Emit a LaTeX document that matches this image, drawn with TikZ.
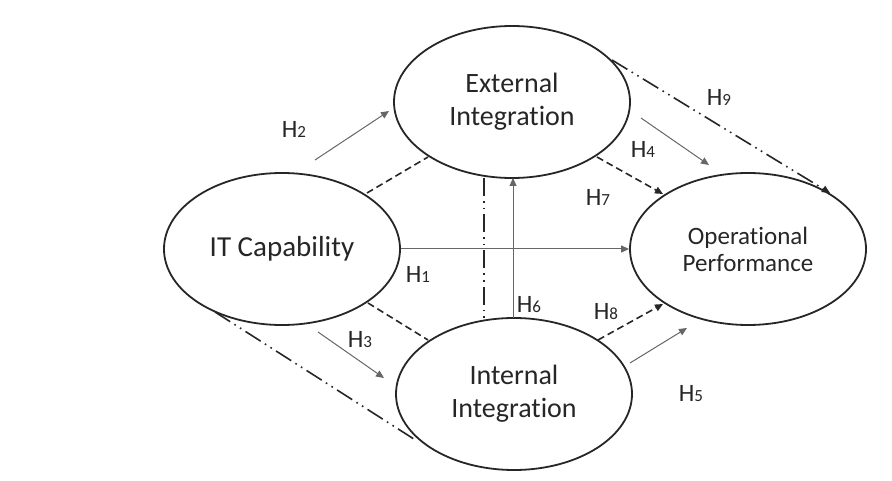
\documentclass[tikz,border=0pt]{standalone}
\usepackage{fontspec}
\setmainfont[Ligatures=NoCommon]{Carlito}
\usetikzlibrary{shapes.geometric,arrows.meta}
\definecolor{ink}{HTML}{262626}
\definecolor{thin}{HTML}{666666}
\newcommand\hlab[1]{H{\fontsize{17pt}{17pt}\selectfont #1}}
\begin{document}
\begin{tikzpicture}[x=1pt,y=-1pt,
  construct/.style={ellipse,draw=ink,line width=1.8pt,inner sep=0pt,
    minimum width=236pt,minimum height=152pt,align=center,text=ink,
    font=\fontsize{28pt}{33pt}\selectfont},
  hyp/.style={text=ink,font=\fontsize{25pt}{25pt}\selectfont,inner sep=0pt},
  tip/.style={-{Triangle[length=8pt,width=7pt]}},
  solidarrow/.style={tip,draw=thin,line width=1pt},
  dasharrow/.style={tip,draw=ink,line width=1.6pt,dash pattern=on 7pt off 4pt},
  dashline/.style={draw=ink,line width=1.6pt,dash pattern=on 7pt off 4pt},
  ddotline/.style={draw=ink,line width=1.6pt,dash pattern=on 18pt off 5pt on 1.6pt off 5pt on 1.6pt off 5pt},
]
\useasboundingbox (0,0) rectangle (892,481);
\node[construct,font=\fontsize{29pt}{33pt}\selectfont] (it)  at (282,249) {IT Capability};
\node[construct] (ext) at (512,102) {External\\Integration};
\node[construct] (int) at (514,394) {Internal\\Integration};
\node[construct,font=\fontsize{25pt}{27pt}\selectfont] (op) at (748,249) {Operational\\Performance};

% coordinates for free arrows and border points
\coordinate (h2s) at (315,160); \coordinate (h2e) at (389,111);
\coordinate (h3s) at (318,332); \coordinate (h3e) at (384,378);
\coordinate (h4s) at (641,118); \coordinate (h4e) at (709,165);
\coordinate (h5s) at (630,363); \coordinate (h5e) at (687,328);
\coordinate (h7s) at (597,157); \coordinate (h7e) at (663,194);
\coordinate (h8s) at (598,340); \coordinate (h8e) at (663,304);
\coordinate (h9s) at (612,60);  \coordinate (h9e) at (830,193);
\coordinate (d1s) at (367,193); \coordinate (d1e) at (428,157);
\coordinate (d2s) at (368,303); \coordinate (d2e) at (428,340);
\coordinate (vs) at (484,178);  \coordinate (ve) at (484,320);
\coordinate (ls) at (215,312);  \coordinate (le) at (417,441);
\coordinate (h6s) at (513,318); \coordinate (h6e) at (513,178);

% H1
\draw[solidarrow] (it.east) -- (op.west);
% H6
\draw[solidarrow] (h6s) -- (h6e);
% free arrows
\draw[solidarrow] (h2s) -- (h2e);
\draw[solidarrow] (h3s) -- (h3e);
\draw[solidarrow] (h4s) -- (h4e);
\draw[solidarrow] (h5s) -- (h5e);
% dashed
\draw[dasharrow] (h7s) -- (h7e);
\draw[dasharrow] (h8s) -- (h8e);
\draw[dashline] (d1s) -- (d1e);
\draw[dashline] (d2s) -- (d2e);
% dash dot dot
\draw[ddotline,tip] (h9s) -- (h9e);
\draw[ddotline] (vs) -- (ve);
\draw[ddotline] (ls) -- (le);

% labels
\node[hyp] (l1) at (418,274) {\hlab{1}};
\node[hyp] (l2) at (294,129) {\hlab{2}};
\node[hyp] (l3) at (360,340) {\hlab{3}};
\node[hyp] (l4) at (643,149) {\hlab{4}};
\node[hyp] (l5) at (691,394) {\hlab{5}};
\node[hyp] (l6) at (529,305) {\hlab{6}};
\node[hyp] (l7) at (598,197) {\hlab{7}};
\node[hyp] (l8) at (606,312) {\hlab{8}};
\node[hyp] (l9) at (719,97)  {\hlab{9}};
\end{tikzpicture}
\end{document}
